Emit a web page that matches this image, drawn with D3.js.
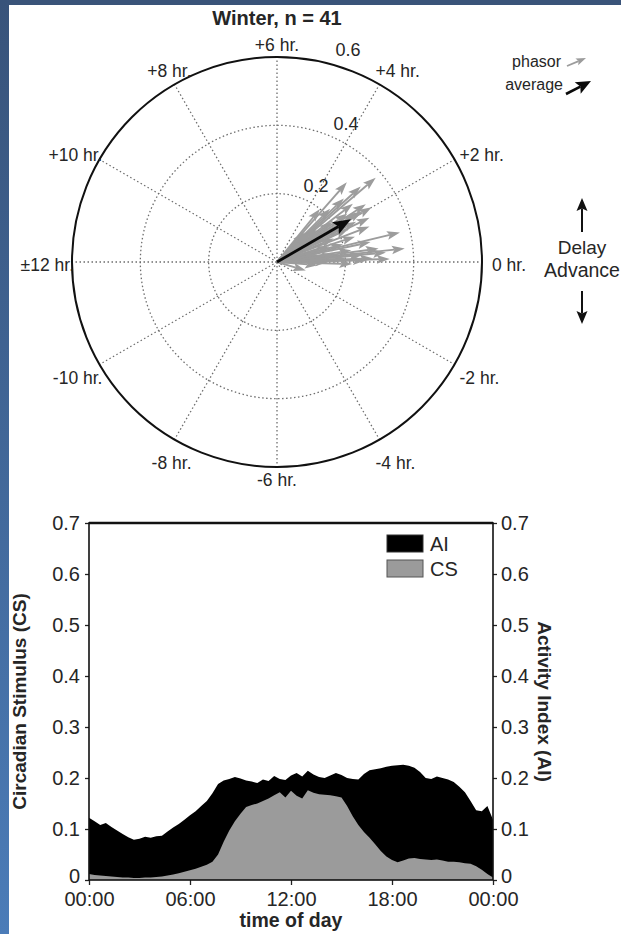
<!DOCTYPE html>
<html>
<head>
<meta charset="utf-8">
<script src="https://cdn.jsdelivr.net/npm/d3@7/dist/d3.min.js"></script>
<style>
  body { margin: 0; background: #fff; }
  svg { display: block; }
  text { font-family: "Liberation Sans", Arial, sans-serif; fill: #262626; }
</style>
</head>
<body>
<svg id="fig" width="621" height="934"></svg>
<script>
// ---- Phasor data (phase shift in hours, phasor magnitude) ----
const phasorHours = [2.7, 3.25, 2.2, 2.0, 2.05, 0.9, 0.4, 0.33, 0.07, -1.1,
  1.65, 2.9, 3.0, 2.5, 2.4, 1.8, 1.5, 1.2, 1.0, 0.8,
  0.6, 0.5, 0.2, 0.1, -0.1, 0.0, 2.6, 3.4, 2.3, 1.9,
  1.4, 1.1, 0.7, 0.3, -0.3, 2.8, 3.1, 2.1, 1.7, 0.45, 0.15];
const phasorMagnitude = [0.38, 0.31, 0.31, 0.32, 0.29, 0.37, 0.376, 0.32, 0.26, 0.088,
  0.23, 0.27, 0.22, 0.28, 0.2, 0.26, 0.18, 0.24, 0.2, 0.28,
  0.22, 0.3, 0.2, 0.33, 0.22, 0.15, 0.15, 0.2, 0.25, 0.21,
  0.29, 0.16, 0.12, 0.25, 0.12, 0.33, 0.12, 0.27, 0.3, 0.17, 0.28];
const averageHours = 2.0;
const averageMagnitude = 0.25;

const ringValues = [0.2, 0.4, 0.6];
const spokeHours = [0, 2, 4, 6, 8, 10, 12, -10, -8, -6, -4, -2];
const spokeLabels = ["0 hr.", "+2 hr.", "+4 hr.", "+6 hr.", "+8 hr.", "+10 hr.", "\u00b112 hr.",
  "-10 hr.", "-8 hr.", "-6 hr.", "-4 hr.", "-2 hr."];

// ---- Daily profiles, one sample every 20 minutes from 00:00 to 24:00 ----
const stepMinutes = 20;
const activityIndex = [0.122, 0.115, 0.108, 0.112, 0.104, 0.097, 0.090, 0.084, 0.079, 0.081,
  0.085, 0.083, 0.086, 0.087, 0.095, 0.103, 0.110, 0.118, 0.127, 0.135,
  0.145, 0.155, 0.170, 0.188, 0.195, 0.198, 0.202, 0.199, 0.195, 0.193,
  0.190, 0.197, 0.194, 0.204, 0.198, 0.196, 0.205, 0.210, 0.203, 0.214,
  0.207, 0.202, 0.200, 0.205, 0.210, 0.206, 0.200, 0.198, 0.197, 0.208,
  0.215, 0.217, 0.219, 0.222, 0.224, 0.225, 0.226, 0.224, 0.220, 0.212,
  0.200, 0.198, 0.203, 0.200, 0.197, 0.192, 0.183, 0.172, 0.155, 0.137,
  0.135, 0.145, 0.118];
const circadianStimulus = [0.012, 0.010, 0.009, 0.008, 0.007, 0.006, 0.005, 0.005, 0.004, 0.004,
  0.005, 0.005, 0.006, 0.007, 0.009, 0.011, 0.013, 0.016, 0.019, 0.022,
  0.026, 0.030, 0.036, 0.050, 0.075, 0.097, 0.115, 0.130, 0.143, 0.147,
  0.150, 0.155, 0.160, 0.166, 0.172, 0.162, 0.175, 0.165, 0.160, 0.176,
  0.171, 0.168, 0.167, 0.166, 0.164, 0.162, 0.145, 0.125, 0.108, 0.094,
  0.083, 0.070, 0.057, 0.046, 0.039, 0.035, 0.038, 0.042, 0.043, 0.041,
  0.040, 0.039, 0.040, 0.038, 0.036, 0.036, 0.035, 0.033, 0.032, 0.027,
  0.020, 0.012, 0.005];
const yTicks = [0, 0.1, 0.2, 0.3, 0.4, 0.5, 0.6, 0.7];
const xTicks = [0, 6, 12, 18, 24];
const xTickLabels = ["00:00", "06:00", "12:00", "18:00", "00:00"];

const svg = d3.select("#fig");

// ---- Page frame ----
const defs = svg.append("defs");
const grad = defs.append("linearGradient").attr("id", "edge").attr("x1", 0).attr("y1", 0).attr("x2", 0).attr("y2", 1);
grad.append("stop").attr("offset", "0%").attr("stop-color", "#38537a");
grad.append("stop").attr("offset", "100%").attr("stop-color", "#4b7cb8");
svg.append("rect").attr("x", 0).attr("y", 0).attr("width", 621).attr("height", 5).attr("fill", "#3a5479");
svg.append("rect").attr("x", 0).attr("y", 0).attr("width", 9).attr("height", 934).attr("fill", "url(#edge)");

// ---- Polar phasor plot ----
const cx = 277, cy = 262, R = 205;
const rScale = d3.scaleLinear().domain([0, 0.6]).range([0, R]);
const toRad = h => h * 15 * Math.PI / 180;
const pt = (h, r) => [cx + r * Math.cos(toRad(h)), cy - r * Math.sin(toRad(h))];

svg.append("text").attr("x", cx).attr("y", 25).attr("text-anchor", "middle")
  .attr("font-size", 20).attr("font-weight", "bold").text("Winter, n = 41");

const polar = svg.append("g");
// dotted rings
polar.selectAll("circle.ring").data(ringValues.slice(0, -1)).join("circle")
  .attr("cx", cx).attr("cy", cy).attr("r", d => rScale(d))
  .attr("fill", "none").attr("stroke", "#6e6e6e").attr("stroke-width", 1.3)
  .attr("stroke-dasharray", "1.5,2.5");
// dotted spokes
polar.selectAll("line.spoke").data(spokeHours).join("line")
  .attr("x1", cx).attr("y1", cy)
  .attr("x2", d => pt(d, R)[0]).attr("y2", d => pt(d, R)[1])
  .attr("stroke", "#6e6e6e").attr("stroke-width", 1.3).attr("stroke-dasharray", "1.5,2.5");
// outer circle
polar.append("circle").attr("cx", cx).attr("cy", cy).attr("r", rScale(0.6))
  .attr("fill", "none").attr("stroke", "#111").attr("stroke-width", 2);

// ring value labels
const ringLabelDx = { 0.2: 39, 0.4: 69, 0.6: 71 };
polar.selectAll("text.ringlab").data(ringValues).join("text")
  .attr("x", d => cx + ringLabelDx[d])
  .attr("y", d => {
    const r = rScale(d), dx = ringLabelDx[d];
    return cy - Math.sqrt(r * r - dx * dx) - 20;
  })
  .attr("text-anchor", "middle").attr("dominant-baseline", "central")
  .attr("font-size", 18).text(d => d.toFixed(1));

// spoke labels
polar.selectAll("text.spokelab").data(spokeHours).join("text")
  .each(function (h, i) {
    const a = toRad(h), c = Math.cos(a), s = Math.sin(a);
    const [px, py] = pt(h, R);
    let x = px, y = py, anchor = "middle";
    if (Math.abs(c) > 0.95) { anchor = c > 0 ? "start" : "end"; x = px + (c > 0 ? 10 : 2); y = py + 3; }
    else if (Math.abs(c) > 0.8) { anchor = c > 0 ? "start" : "end"; x = px + (c > 0 ? 5 : 3); y = py + (s > 0 ? -5 : 13); }
    else if (Math.abs(c) > 0.3) { anchor = c > 0 ? "start" : "end"; x = px + (c > 0 ? -4 : 17); y = py + (s > 0 ? -13 : 23); }
    else { y = py + (s > 0 ? -12 : 13); }
    d3.select(this).attr("x", x).attr("y", y).attr("text-anchor", anchor)
      .attr("dominant-baseline", "central").attr("font-size", 17.5).text(spokeLabels[i]);
  });

// arrow drawing helper: shaft + filled head
function arrow(g, x1, y1, x2, y2, color, width, headLen, headHalf) {
  const dx = x2 - x1, dy = y2 - y1, len = Math.hypot(dx, dy);
  const ux = dx / len, uy = dy / len, nx = -uy, ny = ux;
  const bx = x2 - ux * headLen, by = y2 - uy * headLen;
  const mx = x2 - ux * headLen * 0.8, my = y2 - uy * headLen * 0.8;
  g.append("line").attr("x1", x1).attr("y1", y1).attr("x2", mx).attr("y2", my)
    .attr("stroke", color).attr("stroke-width", width);
  g.append("path").attr("d", `M${x2},${y2}L${bx + nx * headHalf},${by + ny * headHalf}L${mx},${my}L${bx - nx * headHalf},${by - ny * headHalf}Z`)
    .attr("fill", color);
}

const arrows = polar.append("g");
phasorHours.forEach((h, i) => {
  const [tx, ty] = pt(h, rScale(phasorMagnitude[i]));
  arrow(arrows, cx, cy, tx, ty, "#9c9c9c", 1.9, 13, 4.3);
});
{
  const [tx, ty] = pt(averageHours, rScale(averageMagnitude));
  arrow(arrows, cx, cy, tx, ty, "#0a0a0a", 2.8, 18, 7);
}

// phasor legend
const leg = svg.append("g");
leg.append("text").attr("x", 561).attr("y", 61).attr("text-anchor", "end")
  .attr("dominant-baseline", "central").attr("font-size", 16).text("phasor");
leg.append("text").attr("x", 563).attr("y", 84).attr("text-anchor", "end")
  .attr("dominant-baseline", "central").attr("font-size", 16).text("average");
arrow(leg, 567, 66, 586, 58, "#9c9c9c", 1.8, 10, 3.6);
arrow(leg, 566, 94, 591, 81, "#0a0a0a", 2.6, 15, 6.5);

// delay / advance indicator
leg.append("text").attr("x", 582).attr("y", 247).attr("text-anchor", "middle")
  .attr("dominant-baseline", "central").attr("font-size", 19).text("Delay");
leg.append("text").attr("x", 582).attr("y", 270).attr("text-anchor", "middle")
  .attr("dominant-baseline", "central").attr("font-size", 19.5).text("Advance");
arrow(leg, 582, 232, 582, 198, "#111", 2, 13, 5.5);
arrow(leg, 582, 291, 582, 324, "#111", 2, 13, 5.5);

// ---- Daily profile chart ----
const x = d3.scaleLinear().domain([0, 24]).range([89, 493]);
const y = d3.scaleLinear().domain([0, 0.7]).range([880, 523]);
const hourAt = i => i * stepMinutes / 60;

const chart = svg.append("g");
const area = vals => d3.area().x((d, i) => x(hourAt(i))).y0(y(0)).y1(d => y(d))(vals);
chart.append("path").attr("d", area(activityIndex)).attr("fill", "#000");
chart.append("path").attr("d", area(circadianStimulus)).attr("fill", "#9b9b9b");

const fmtY = d => d === 0 ? "0" : d3.format(".1f")(d);
const left = chart.append("g").attr("transform", `translate(${x(0)},0)`)
  .call(d3.axisLeft(y).tickValues(yTicks).tickFormat(fmtY).tickSize(4).tickPadding(5));
const right = chart.append("g").attr("transform", `translate(${x(24)},0)`)
  .call(d3.axisRight(y).tickValues(yTicks).tickFormat(fmtY).tickSize(4).tickPadding(4));
const bottom = chart.append("g").attr("transform", `translate(0,${y(0)})`)
  .call(d3.axisBottom(x).tickValues(xTicks).tickFormat((d, i) => xTickLabels[i]).tickSize(5).tickPadding(7));
[left, right, bottom].forEach(g => {
  g.select(".domain").remove();
  g.selectAll(".tick line").attr("stroke", "#222").attr("stroke-width", 1.3);
  g.selectAll(".tick text").attr("font-size", 20).attr("fill", "#333")
    .attr("font-family", "Liberation Sans, Arial, sans-serif");
});
// lift the zero labels a touch so they clear the time labels below
left.selectAll(".tick text").filter(d => d === 0).attr("dy", "0.1em");
right.selectAll(".tick text").filter(d => d === 0).attr("dy", "0.1em");
// plot frame
chart.append("rect").attr("x", x(0)).attr("y", y(0.7)).attr("width", x(24) - x(0)).attr("height", y(0) - y(0.7))
  .attr("fill", "none").attr("stroke", "#111").attr("stroke-width", 1.6);
chart.append("line").attr("x1", x(0)).attr("x2", x(24)).attr("y1", y(0.7)).attr("y2", y(0.7))
  .attr("stroke", "#111").attr("stroke-width", 2.4);

// legend
const lg = chart.append("g");
lg.append("rect").attr("x", 387).attr("y", 535).attr("width", 36).attr("height", 17)
  .attr("fill", "#000").attr("stroke", "#333");
lg.append("rect").attr("x", 387).attr("y", 560).attr("width", 36).attr("height", 17)
  .attr("fill", "#9b9b9b").attr("stroke", "#555");
lg.append("text").attr("x", 430).attr("y", 544).attr("dominant-baseline", "central").attr("font-size", 20).text("AI");
lg.append("text").attr("x", 430).attr("y", 569).attr("dominant-baseline", "central").attr("font-size", 20).text("CS");

// axis titles
chart.append("text").attr("transform", `translate(19,${(y(0) + y(0.7)) / 2}) rotate(-90)`)
  .attr("text-anchor", "middle").attr("dominant-baseline", "central")
  .attr("font-size", 19).attr("font-weight", "bold").text("Circadian Stimulus (CS)");
chart.append("text").attr("transform", `translate(544,${(y(0) + y(0.7)) / 2}) rotate(90)`)
  .attr("text-anchor", "middle").attr("dominant-baseline", "central")
  .attr("font-size", 19).attr("font-weight", "bold").text("Activity Index (AI)");
chart.append("text").attr("x", x(12)).attr("y", 920).attr("text-anchor", "middle")
  .attr("dominant-baseline", "central").attr("font-size", 19.5).attr("font-weight", "bold").text("time of day");
</script>
</body>
</html>
